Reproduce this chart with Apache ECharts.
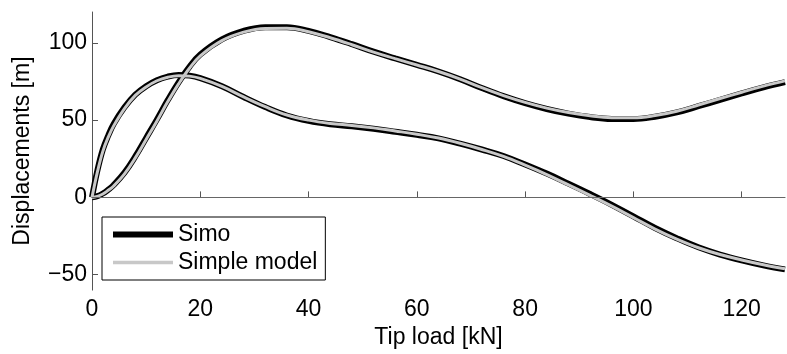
<!DOCTYPE html>
<html>
<head>
<meta charset="utf-8">
<script src="https://cdn.jsdelivr.net/npm/echarts@6/dist/echarts.min.js"></script>
<style>
  html,body{margin:0;padding:0;background:#fff;}
  #main{width:787px;height:354px;}
</style>
</head>
<body>
<div id="main"></div>
<script>
// tip load [kN]
var xLoad = [0,1,2,3,4,6,8,10,12,14,16,18,20,24,28,32,36,40,44,48,52,56,60,64,68,72,76,80,84,88,92,96,100,104,108,112,116,120,124,128];
// Simo, first displacement component
var simoA = [0,17.5,31,40,47.5,58.3,66.5,72,75.9,78.2,79.2,78.8,77.2,72,65,58.5,53,49.5,47.3,46,44.4,42.5,40.5,38.2,34.8,31,26.8,21.3,15.4,8.9,2.2,-4.8,-12.3,-19.8,-26.4,-32.3,-37,-40.8,-44,-46.6];
// Simo, second displacement component
var simoB = [0,0.8,2.5,5,8,16,26.5,38.5,50.5,63,74.5,84.5,92.5,102.3,107.8,110.2,110.2,107.8,103.8,99.2,94.3,90,85.8,81.5,76.5,70.8,65.5,61,57.2,54.2,52,50.8,50.7,52.2,55,59,63.2,67.3,71.2,74.6];
// Simple model
var simpleA = [0,16.5,29.8,39,46.3,57.5,66,71.5,75.5,77.8,78.8,78.5,77,71.8,65,58.7,53.3,50,47.9,46.6,45,43,40.9,38.4,35,31,26.5,20.9,14.8,8.1,1.3,-5.7,-13.1,-20.5,-27,-32.6,-37,-40.5,-43.6,-46.2];
var simpleB = [0,0.7,2.2,4.6,7.4,15.2,25.6,37.5,49.5,62,73.5,83.6,91.6,101.5,107,109.4,109.5,107.2,103.3,98.8,94,89.8,85.7,81.5,76.6,71,65.9,61.5,57.8,54.9,52.8,51.6,51.5,53,55.8,59.8,64,68.1,72,75.4];
var yTicks = [-50,0,50,100];

function pairs(ys){
  var out=[];
  for(var i=0;i<xLoad.length;i++){out.push([xLoad[i],ys[i]]);}
  return out;
}

var myChart = echarts.init(document.getElementById('main'));
var font = 'Liberation Sans, Arial, sans-serif';
var option = {
  animation:false,
  grid:{left:92,right:2,top:12,bottom:63},
  legend:{
    orient:'vertical',
    left:102, top:217,
    backgroundColor:'#fff',
    borderColor:'#000', borderWidth:1, borderRadius:0,
    padding:[6,8,6,11],
    itemWidth:60, itemHeight:14, itemGap:5,
    itemStyle:{borderWidth:0},
    textStyle:{fontFamily:font,fontSize:23,lineHeight:23,color:'#000'},
    data:[
      {name:'Simo',icon:'path://M0,0H60V6H0Z'},
      {name:'Simple model',icon:'path://M0,0H60V3.5H0Z'}
    ]
  },
  xAxis:{
    type:'value', min:0, max:128, interval:20,
    name:'Tip load [kN]', nameLocation:'middle', nameGap:34,
    nameTextStyle:{fontFamily:font,fontSize:23,color:'#000'},
    splitLine:{show:false},
    axisLine:{lineStyle:{color:'#555',width:1}},
    axisTick:{inside:true,length:6,lineStyle:{color:'#555'}},
    axisLabel:{fontFamily:font,fontSize:23,color:'#000',margin:8,showMaxLabel:false}
  },
  yAxis:{
    type:'value', min:-60, max:120,
    name:'Displacements [m]', nameLocation:'middle', nameGap:58,
    nameTextStyle:{fontFamily:font,fontSize:23,color:'#000'},
    splitLine:{show:false},
    axisLine:{show:true,onZero:false,lineStyle:{color:'#555',width:1}},
    axisTick:{inside:true,length:6,lineStyle:{color:'#555'},customValues:yTicks},
    axisLabel:{fontFamily:font,fontSize:23,color:'#000',margin:5,
      formatter:function(v){return v<0?'\u2212'+(-v):String(v);},
      customValues:yTicks}
  },
  series:[
    {name:'Simo',type:'line',data:pairs(simoA),smooth:0.4,showSymbol:false,symbol:'none',
      lineStyle:{color:'#000',width:6},itemStyle:{color:'#000'},z:2,
      markLine:{silent:true,symbol:'none',label:{show:false},
        lineStyle:{color:'#666',width:1,type:'solid'},data:[{yAxis:0}]}},
    {name:'Simo',type:'line',data:pairs(simoB),smooth:0.4,showSymbol:false,symbol:'none',
      lineStyle:{color:'#000',width:6},itemStyle:{color:'#000'},z:2},
    {name:'Simple model',type:'line',data:pairs(simpleA),smooth:0.4,showSymbol:false,symbol:'none',
      lineStyle:{color:'#c8c8c8',width:3},itemStyle:{color:'#c8c8c8'},z:3},
    {name:'Simple model',type:'line',data:pairs(simpleB),smooth:0.4,showSymbol:false,symbol:'none',
      lineStyle:{color:'#c8c8c8',width:3},itemStyle:{color:'#c8c8c8'},z:3}
  ]
};
myChart.setOption(option);
</script>
</body>
</html>
